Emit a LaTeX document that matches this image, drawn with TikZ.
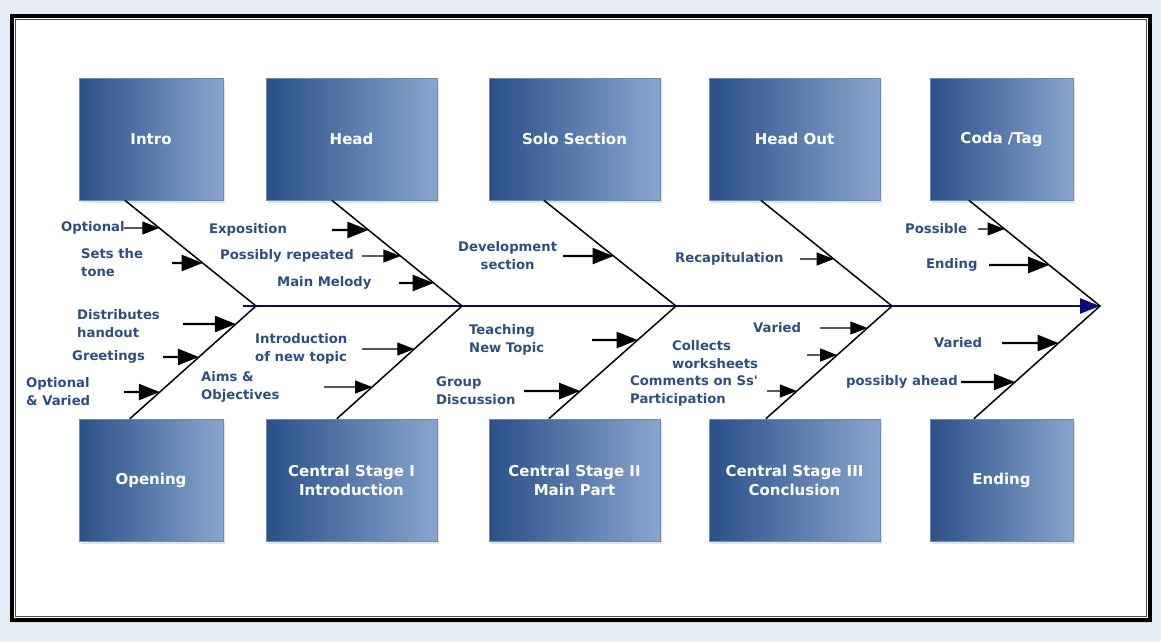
\documentclass[tikz,border=0pt]{standalone}
\usepackage{fontspec}
\setmainfont{DejaVu Sans}
\usetikzlibrary{arrows.meta,shadows}

\definecolor{pagebg}{RGB}{229,236,245}
\definecolor{lblblue}{RGB}{47,79,127}
\definecolor{boxdark}{RGB}{42,80,135}
\definecolor{boxlight}{RGB}{136,165,206}
\definecolor{spineblue}{RGB}{10,10,120}

\begin{document}
\begin{tikzpicture}[x=1pt, y=-1pt,
    stage/.style={shading=axis, left color=boxdark, right color=boxlight,
      draw=boxlight!70!boxdark, line width=0.4pt, minimum height=122pt,
      text=white, font=\fontsize{15}{19}\selectfont\bfseries, align=center,
      drop shadow={opacity=0.22, shadow xshift=1.5pt, shadow yshift=-2.5pt}},
    lbl/.style={anchor=west, inner sep=0pt, text=lblblue,
      font=\fontsize{13.2}{18}\selectfont\bfseries, align=left},
    bone/.style={line width=1.5pt},
    spine/.style={line width=2.4pt, draw=spineblue,
      -{Triangle[length=20pt,width=15pt]}},
    cause/.style={line width=2.4pt, -{Triangle[length=21pt,width=16pt]}},
    hint/.style={line width=1.1pt, -{Triangle[length=17pt,width=13pt]}}]

  \useasboundingbox (0,0) rectangle (1161,641);

  % Page and frame
  \fill[pagebg] (0,0) rectangle (1161,641);
  \draw[line width=4pt, fill=white,
    drop shadow={opacity=0.2, shadow xshift=2pt, shadow yshift=-3pt}]
    (12,16) rectangle (1150,620);
  \draw[line width=0.6pt, black!70] (15.5,19.5) rectangle (1146.5,616.5);

  % Stages, top row
  \node[stage, minimum width=144pt] (intro)   at (151,139)   {Intro};
  \node[stage, minimum width=171pt] (head)    at (351.5,139) {Head};
  \node[stage, minimum width=171pt] (solo)    at (574.5,139) {Solo Section};
  \node[stage, minimum width=171pt] (headout) at (794.5,139) {Head Out};
  \node[stage, minimum width=143pt] (coda)    at (1001.5,139) {Coda /Tag};

  % Stages, bottom row
  \node[stage, minimum width=144pt] (opening)    at (151,480)   {Opening};
  \node[stage, minimum width=171pt] (stageone)   at (351.5,480) {Central Stage I\\Introduction};
  \node[stage, minimum width=171pt] (stagetwo)   at (574.5,480) {Central Stage II\\Main Part};
  \node[stage, minimum width=171pt] (stagethree) at (794.5,480) {Central Stage III\\Conclusion};
  \node[stage, minimum width=143pt] (ending)     at (1001.5,480) {Ending};

  % Spine
  \coordinate (tail) at (243,306);
  \coordinate (j1) at (256,306);
  \coordinate (j2) at (462,306);
  \coordinate (j3) at (676,306);
  \coordinate (j4) at (892,306);
  \coordinate (j5) at (1100,306);
  \draw[spine] (tail) -- (j5);

  % Bones
  \coordinate (b1) at ([xshift=46pt]intro.south west);
  \coordinate (b2) at ([xshift=66pt]head.south west);
  \coordinate (b3) at ([xshift=55pt]solo.south west);
  \coordinate (b4) at ([xshift=52pt]headout.south west);
  \coordinate (b5) at ([xshift=39pt]coda.south west);
  \coordinate (c1) at ([xshift=51pt]opening.north west);
  \coordinate (c2) at ([xshift=71pt]stageone.north west);
  \coordinate (c3) at ([xshift=60pt]stagetwo.north west);
  \coordinate (c4) at ([xshift=57pt]stagethree.north west);
  \coordinate (c5) at ([xshift=44pt]ending.north west);
  \draw[bone] (b1) -- (j1) -- (c1);
  \draw[bone] (b2) -- (j2) -- (c2);
  \draw[bone] (b3) -- (j3) -- (c3);
  \draw[bone] (b4) -- (j4) -- (c4);
  \draw[bone] (b5) -- (j5) -- (c5);

  % Intro / Opening
  \node[lbl] (optional) at (61,228) {Optional};
  \node[lbl] (tone) at (81,263) {Sets the\\tone};
  \node[lbl] (handout) at (77,324) {Distributes\\handout};
  \node[lbl] (greet) at (72,357) {Greetings};
  \node[lbl] (varied) at (26,392) {Optional\\\& Varied};
  \draw[hint]  (124,0 |- optional.west) -- (intersection of b1--j1 and optional.west--optional.east);
  \draw[cause] (172,0 |- tone.west) -- (intersection of b1--j1 and tone.west--tone.east);
  \draw[cause] (183,0 |- handout.west) -- (intersection of c1--j1 and handout.west--handout.east);
  \draw[cause] (163,0 |- greet.west) -- (intersection of c1--j1 and greet.west--greet.east);
  \draw[cause] (124,0 |- varied.west) -- (intersection of c1--j1 and varied.west--varied.east);

  % Head / Central Stage I
  \node[lbl] (expo) at (209,230) {Exposition};
  \node[lbl] (repeat) at (220,256) {Possibly repeated};
  \node[lbl] (melody) at (277,283) {Main Melody};
  \node[lbl] (newtopic) at (255,349) {Introduction\\of new topic};
  \node[lbl] (aims) at (201,387) {Aims \&\\Objectives};
  \draw[cause] (332,0 |- expo.west) -- (intersection of b2--j2 and expo.west--expo.east);
  \draw[hint]  (362,0 |- repeat.west) -- (intersection of b2--j2 and repeat.west--repeat.east);
  \draw[cause] (399,0 |- melody.west) -- (intersection of b2--j2 and melody.west--melody.east);
  \draw[hint]  (362,0 |- newtopic.west) -- (intersection of c2--j2 and newtopic.west--newtopic.east);
  \draw[hint]  (324,0 |- aims.west) -- (intersection of c2--j2 and aims.west--aims.east);

  % Solo Section / Central Stage II
  \node[lbl, align=center] (develop) at (458,256) {Development\\section};
  \node[lbl] (teach) at (469,340) {Teaching\\New Topic};
  \node[lbl] (group) at (436,391) {Group\\Discussion};
  \draw[cause] (563,0 |- develop.west) -- (intersection of b3--j3 and develop.west--develop.east);
  \draw[cause] (592,0 |- teach.west) -- (intersection of c3--j3 and teach.west--teach.east);
  \draw[cause] (524,0 |- group.west) -- (intersection of c3--j3 and group.west--group.east);

  % Head Out / Central Stage III
  \node[lbl] (recap) at (675,259) {Recapitulation};
  \node[lbl] (variedc) at (753,328) {Varied};
  \node[lbl] (collects) at (672,355) {Collects\\worksheets};
  \node[lbl] (comments) at (630,391) {Comments on Ss\textquotesingle\\Participation};
  \draw[hint] (800,0 |- recap.west) -- (intersection of b4--j4 and recap.west--recap.east);
  \draw[hint] (820,0 |- variedc.west) -- (intersection of c4--j4 and variedc.west--variedc.east);
  \draw[hint] (807,0 |- collects.west) -- (intersection of c4--j4 and collects.west--collects.east);
  \draw[hint] (767,0 |- comments.west) -- (intersection of c4--j4 and comments.west--comments.east);

  % Coda / Ending
  \node[lbl] (possible) at (905,229) {Possible};
  \node[lbl] (endingl) at (926,265) {Ending};
  \node[lbl] (variede) at (934,343) {Varied};
  \node[lbl] (ahead) at (846,382) {possibly ahead};
  \draw[hint]  (978,0 |- possible.west) -- (intersection of b5--j5 and possible.west--possible.east);
  \draw[cause] (989,0 |- endingl.west) -- (intersection of b5--j5 and endingl.west--endingl.east);
  \draw[cause] (1002,0 |- variede.west) -- (intersection of c5--j5 and variede.west--variede.east);
  \draw[cause] (961,0 |- ahead.west) -- (intersection of c5--j5 and ahead.west--ahead.east);
\end{tikzpicture}
\end{document}
